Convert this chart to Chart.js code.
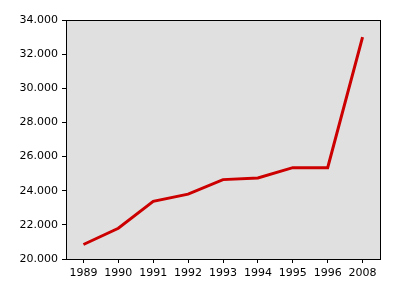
<!DOCTYPE html>
<html>
<head>
<meta charset="utf-8">
<script src="https://cdn.jsdelivr.net/npm/chart.js@4"></script>
<style>
  html, body { margin: 0; padding: 0; background: #fff; }
  #wrap { width: 400px; height: 300px; }
</style>
</head>
<body>
<div id="wrap"><canvas id="chart"></canvas></div>
<script>
const years = ['1989', '1990', '1991', '1992', '1993', '1994', '1995', '1996', '2008'];
const values = [20850, 21800, 23380, 23800, 24650, 24750, 25350, 25350, 33000];

// Fill plot area grey and draw a frame round it
const plotFrame = {
    id: 'plotFrame',
    beforeDraw(chart) {
        const { ctx, chartArea: a } = chart;
        ctx.save();
        ctx.fillStyle = '#e0e0e0';
        ctx.fillRect(a.left, a.top, a.right - a.left, a.bottom - a.top);
        ctx.restore();
    },
    afterDraw(chart) {
        const { ctx, chartArea: a } = chart;
        ctx.save();
        ctx.strokeStyle = '#000';
        ctx.lineWidth = 1;
        ctx.strokeRect(Math.round(a.left) + 0.5, Math.round(a.top) + 0.5,
            Math.round(a.right - a.left), Math.round(a.bottom - a.top));
        ctx.restore();
    }
};

function formatThousands(v) {
    return String(v).replace(/\B(?=(\d{3})+(?!\d))/g, '.');
}

new Chart(document.getElementById('chart'), {
    type: 'line',
    data: {
        labels: years,
        datasets: [{
            data: values,
            borderColor: '#cc0000',
            borderWidth: 3,
            pointRadius: 0,
            tension: 0,
            fill: false
        }]
    },
    plugins: [plotFrame],
    options: {
        responsive: true,
        maintainAspectRatio: false,
        animation: false,
        layout: { padding: { top: 20, right: 20, left: 0, bottom: 0 } },
        plugins: {
            legend: { display: false },
            tooltip: { enabled: false }
        },
        scales: {
            x: {
                offset: true,
                grid: { drawOnChartArea: false, tickLength: 4, color: '#000', offset: false },
                border: { color: '#000', width: 1 },
                ticks: { color: '#000', font: { family: 'DejaVu Sans', size: 11 }, padding: 4, maxRotation: 0, autoSkip: false },
                afterFit(scale) { scale.height = 41; }
            },
            y: {
                min: 20000,
                max: 34000,
                grid: { drawOnChartArea: false, tickLength: 4, color: '#000' },
                border: { color: '#000', width: 1 },
                ticks: {
                    stepSize: 2000,
                    color: '#000',
                    font: { family: 'DejaVu Sans', size: 11 },
                    padding: 4,
                    callback: v => formatThousands(v)
                },
                afterFit(scale) { scale.width = 66; }
            }
        }
    }
});
</script>
</body>
</html>
